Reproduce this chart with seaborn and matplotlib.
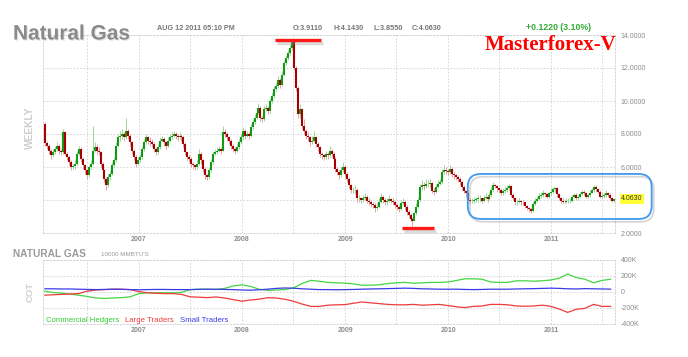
import numpy as np
import pandas as pd
import seaborn as sns
import matplotlib.pyplot as plt
import matplotlib.dates as mdates
import matplotlib.patheffects as pe
from matplotlib.patches import FancyBboxPatch
from matplotlib.transforms import IdentityTransform

# weekly natural gas prices (Feb 2006 - Aug 12 2011)
first_open = 8.6
last_open = 3.911
closes = [
    7.45, 7.3, 7.0, 6.7, 6.9, 7.1, 7.3, 7.0, 6.9, 8.1,
    6.8, 6.6, 6.3, 6.0, 6.05, 6.2, 6.8, 7.1, 6.5, 6.1,
    5.8, 5.5, 6.0, 6.2, 7.0, 7.2, 7.0, 6.9, 6.2, 5.8,
    5.3, 4.9, 5.4, 5.6, 6.1, 6.4, 7.3, 7.8, 7.9, 8.0,
    7.8, 8.2, 7.9, 7.5, 7.0, 6.6, 6.2, 6.4, 6.6, 7.1,
    7.5, 7.8, 7.6, 7.5, 7.4, 7.1, 6.9, 7.2, 7.6, 7.7,
    7.5, 7.3, 7.6, 7.8, 7.9, 8.0, 7.9, 7.8, 7.9, 7.8,
    7.4, 6.9, 6.6, 6.5, 6.2, 6.1, 6.0, 6.2, 6.8, 6.4,
    5.9, 5.5, 5.4, 5.8, 6.3, 6.8, 6.9, 7.0, 7.1, 7.0,
    8.1, 8.0, 7.8, 7.6, 7.3, 7.1, 7.0, 7.2, 7.5, 7.8,
    8.2, 7.9, 8.0, 7.9, 8.4, 8.7, 9.0, 9.3, 9.6, 9.0,
    8.9, 9.5, 9.6, 9.4, 10.0, 10.3, 10.7, 10.9, 11.3, 11.0,
    11.6, 12.3, 12.6, 12.9, 13.2, 13.6, 12.0, 10.8, 9.2, 9.5,
    8.5, 8.2, 7.9, 7.8, 7.5, 7.6, 7.8, 7.4, 7.2, 6.8,
    6.7, 6.6, 6.8, 6.7, 7.0, 6.8, 6.5, 5.9, 5.7, 5.5,
    5.8, 6.0, 5.6, 5.3, 4.9, 4.6, 4.6, 4.6, 4.1, 4.1,
    4.0, 4.1, 4.2, 3.95, 3.9, 3.75, 3.7, 3.5, 3.6, 3.9,
    4.2, 4.0, 3.85, 3.95, 4.05, 3.95, 3.9, 3.7, 3.6, 3.45,
    3.8, 3.9, 3.6, 3.3, 3.1, 2.85, 2.75, 3.2, 3.6, 4.0,
    4.8, 4.9, 4.85, 4.95, 5.0, 5.05, 4.55, 4.5, 4.8, 5.0,
    5.1, 5.7, 5.8, 5.75, 5.7, 5.9, 5.6, 5.5, 5.4, 5.3,
    5.1, 4.8, 4.55, 4.4, 4.0, 3.95, 3.95, 4.0, 4.05, 4.1,
    4.1, 3.95, 4.15, 4.2, 4.05, 4.3, 4.6, 4.9, 4.85, 4.7,
    4.6, 4.4, 4.55, 4.6, 4.75, 4.85, 4.3, 4.1, 3.85, 3.9,
    3.95, 3.9, 3.85, 3.65, 3.5, 3.45, 3.35, 3.75, 3.95, 4.05,
    4.25, 4.3, 4.4, 4.35, 4.2, 4.4, 4.5, 4.65, 4.7, 4.35,
    4.1, 3.95, 3.9, 3.9, 3.95, 3.95, 3.95, 4.2, 4.3, 4.15,
    4.2, 4.35, 4.5, 4.45, 4.2, 4.3, 4.45, 4.6, 4.8, 4.65,
    4.5, 4.2, 4.25, 4.3, 4.45, 4.3, 4.1, 3.91, 4.063,
]
highs = [
    8.7, 7.6, 7.4, 7.1, 7.1, 7.3, 7.5, 7.4, 7.1, 8.3,
    8.2, 6.9, 6.7, 6.4, 6.2, 6.4, 7.0, 7.3, 7.2, 6.6,
    6.2, 5.9, 6.1, 6.4, 8.5, 7.5, 7.4, 7.2, 7.0, 6.3,
    5.9, 5.4, 5.6, 5.8, 6.3, 6.6, 7.5, 8.0, 8.2, 8.3,
    8.1, 9.0, 8.3, 8.0, 7.6, 7.1, 6.7, 6.6, 6.8, 7.3,
    7.7, 8.0, 7.9, 7.8, 7.7, 7.5, 7.2, 7.4, 7.8, 7.9,
    7.8, 7.6, 7.8, 8.0, 8.1, 8.2, 8.1, 8.0, 8.1, 8.0,
    7.9, 7.5, 7.0, 6.7, 6.6, 6.3, 6.2, 6.4, 7.1, 6.9,
    6.5, 6.0, 5.6, 6.0, 6.5, 7.0, 7.1, 7.2, 7.3, 7.2,
    8.5, 8.3, 8.1, 7.9, 7.7, 7.4, 7.2, 7.4, 7.7, 8.0,
    8.4, 8.3, 8.2, 8.1, 8.6, 8.9, 9.2, 9.5, 9.9, 9.7,
    9.1, 9.7, 9.8, 9.7, 10.2, 10.5, 10.9, 11.1, 11.5, 11.4,
    11.8, 12.5, 12.8, 13.1, 13.4, 13.7, 13.7, 12.1, 10.9, 9.8,
    9.6, 8.9, 8.3, 8.1, 7.9, 7.9, 8.2, 7.9, 7.5, 7.3,
    6.9, 6.8, 7.0, 6.9, 7.3, 7.1, 6.9, 6.6, 6.0, 5.8,
    6.0, 6.3, 6.1, 5.7, 5.4, 5.0, 4.8, 4.9, 4.7, 4.3,
    4.2, 4.3, 4.4, 4.3, 4.1, 4.0, 3.9, 3.8, 3.8, 4.1,
    4.4, 4.3, 4.1, 4.1, 4.3, 4.1, 4.1, 4.0, 3.8, 3.7,
    4.0, 4.1, 4.0, 3.7, 3.4, 3.2, 3.0, 3.3, 3.8, 4.2,
    5.0, 5.2, 5.1, 5.3, 5.2, 5.3, 5.1, 4.7, 5.0, 5.2,
    5.3, 5.9, 6.1, 6.0, 5.9, 6.1, 6.0, 5.7, 5.6, 5.5,
    5.4, 5.2, 4.9, 4.6, 4.5, 4.1, 4.1, 4.2, 4.2, 4.3,
    4.3, 4.2, 4.3, 4.4, 4.3, 4.5, 4.8, 5.1, 5.0, 4.9,
    4.8, 4.7, 4.7, 4.8, 4.9, 5.0, 4.9, 4.4, 4.2, 4.0,
    4.1, 4.0, 4.0, 3.9, 3.7, 3.6, 3.5, 3.9, 4.1, 4.2,
    4.4, 4.5, 4.6, 4.5, 4.4, 4.5, 4.7, 4.8, 4.8, 4.8,
    4.4, 4.2, 4.1, 4.0, 4.1, 4.1, 4.1, 4.3, 4.4, 4.4,
    4.3, 4.5, 4.6, 4.6, 4.5, 4.4, 4.6, 4.7, 4.9, 4.9,
    4.7, 4.6, 4.4, 4.4, 4.6, 4.5, 4.4, 4.2, 4.143,
]
lows = [
    7.3, 7.1, 6.8, 6.5, 6.6, 6.8, 7.0, 6.8, 6.7, 6.8,
    6.7, 6.4, 6.1, 5.8, 5.9, 5.9, 6.1, 6.7, 6.3, 5.9,
    5.6, 5.3, 5.4, 5.9, 6.1, 6.9, 6.8, 6.7, 6.0, 5.6,
    5.1, 4.6, 4.8, 5.2, 5.5, 6.0, 6.3, 7.2, 7.6, 7.7,
    7.6, 7.7, 7.7, 7.3, 6.8, 6.4, 6.0, 6.1, 6.3, 6.5,
    7.0, 7.4, 7.4, 7.3, 7.2, 6.9, 6.7, 6.8, 7.1, 7.5,
    7.3, 7.1, 7.2, 7.5, 7.7, 7.8, 7.7, 7.6, 7.7, 7.6,
    7.2, 6.7, 6.4, 6.3, 6.0, 5.9, 5.8, 5.9, 6.1, 6.2,
    5.7, 5.3, 5.2, 5.3, 5.7, 6.2, 6.7, 6.8, 6.9, 6.8,
    7.0, 7.8, 7.6, 7.4, 7.1, 6.9, 6.8, 6.9, 7.1, 7.4,
    7.7, 7.7, 7.8, 7.7, 7.8, 8.3, 8.6, 8.9, 9.2, 8.8,
    8.7, 8.8, 9.4, 9.2, 9.3, 9.9, 10.2, 10.6, 10.8, 10.8,
    10.9, 11.5, 12.2, 12.5, 12.8, 13.1, 11.9, 10.6, 9.0, 9.0,
    8.3, 8.0, 7.7, 7.6, 7.3, 7.4, 7.5, 7.2, 7.0, 6.6,
    6.5, 6.4, 6.5, 6.5, 6.6, 6.6, 6.3, 5.7, 5.5, 5.3,
    5.4, 5.7, 5.4, 5.1, 4.7, 4.4, 4.4, 4.4, 3.9, 3.9,
    3.8, 3.9, 4.0, 3.8, 3.7, 3.6, 3.5, 3.3, 3.4, 3.5,
    3.8, 3.8, 3.7, 3.7, 3.9, 3.8, 3.7, 3.5, 3.4, 3.3,
    3.4, 3.7, 3.4, 3.1, 2.9, 2.7, 2.45, 2.7, 3.1, 3.5,
    3.9, 4.6, 4.6, 4.7, 4.8, 4.8, 4.4, 4.3, 4.4, 4.7,
    4.9, 5.0, 5.6, 5.6, 5.5, 5.6, 5.4, 5.3, 5.2, 5.1,
    4.9, 4.6, 4.4, 4.2, 3.8, 3.8, 3.8, 3.8, 3.9, 3.9,
    3.9, 3.8, 3.9, 4.0, 3.9, 4.0, 4.2, 4.5, 4.7, 4.5,
    4.4, 4.3, 4.3, 4.4, 4.5, 4.6, 4.2, 4.0, 3.7, 3.7,
    3.8, 3.7, 3.7, 3.5, 3.4, 3.3, 3.2, 3.3, 3.7, 3.9,
    4.0, 4.1, 4.2, 4.2, 4.1, 4.1, 4.3, 4.4, 4.5, 4.2,
    4.0, 3.8, 3.8, 3.8, 3.8, 3.8, 3.8, 3.9, 4.1, 4.0,
    4.0, 4.1, 4.3, 4.3, 4.1, 4.1, 4.2, 4.4, 4.5, 4.5,
    4.4, 4.1, 4.1, 4.1, 4.2, 4.2, 4.0, 3.85, 3.855,
]

# COT net positions (thousands of contracts), monthly readings Feb 2006 - Aug 2011
commercial = [
    10, -5, -15, -25, -40, -55, -75, -80, -75, -70, -60,
    -20, -10, -10, -10, -10, -5, 30, 35, 35, 30, 45, 75,
    90, 70, 35, 20, 25, 30, 50, 105, 145, 135, 120, 115,
    110, 100, 85, 85, 90, 105, 115, 120, 110, 115, 120, 120,
    125, 145, 165, 165, 160, 125, 120, 120, 140, 140, 135, 140,
    150, 175, 225, 180, 160, 115, 145, 160,
]
large = [
    -40, -35, -30, -25, -20, 10, 25, 30, 35, 35, 30,
    5, -10, -15, -20, -20, -30, -60, -65, -70, -62, -75, -95,
    -115, -100, -90, -72, -75, -90, -115, -150, -180, -180, -165, -160,
    -158, -140, -125, -135, -145, -155, -160, -160, -155, -165, -160, -155,
    -170, -185, -195, -180, -175, -155, -155, -160, -175, -178, -175, -165,
    -180, -215, -255, -215, -205, -155, -180, -180,
]
small = [
    40, 40, 38, 38, 35, 32, 30, 32, 35, 33, 30,
    28, 30, 32, 32, 30, 30, 30, 33, 35, 35, 32, 30,
    25, 22, 28, 35, 45, 50, 48, 40, 35, 30, 30, 28,
    30, 32, 35, 38, 40, 42, 45, 48, 45, 40, 38, 35,
    35, 35, 32, 30, 32, 35, 35, 35, 38, 40, 42, 45,
    48, 45, 40, 38, 42, 40, 38, 36,
]
years = ['2007', '2008', '2009', '2010', '2011']
price_ticks = [2, 4, 6, 8, 10, 12, 14]
cot_ticks = [-400, -200, 0, 200, 400]

weeks = pd.date_range('2006-02-03', periods=len(closes), freq='7D')
opens = [first_open] + closes[:-1]
opens[-1] = last_open
df = pd.DataFrame({'week': weeks, 'open': opens, 'high': highs, 'low': lows, 'close': closes})

cot_months = pd.date_range('2006-02-01', periods=len(commercial), freq='MS')
cot = pd.DataFrame({'month': cot_months, 'Commercial Hedgers': commercial,
                    'Large Traders': large, 'Small Traders': small})
cot = cot.melt(id_vars='month', var_name='group', value_name='net')

sns.set_theme(style='white')
plt.rcParams['font.family'] = ['Liberation Sans', 'DejaVu Sans']

W, H = 688, 357
fig = plt.figure(figsize=(W / 100, H / 100), dpi=100)
ax = fig.add_axes([43 / W, 1 - 233 / H, 572 / W, 198 / H])
ax2 = fig.add_axes([43 / W, 1 - 324 / H, 572 / W, 64 / H])

# candles
up = df['close'] >= df['open']
for mask, wick_col, body_col in [(up, '#9ad89a', '#139a13'), (~up, '#e0a4a4', '#a80000')]:
    d = df[mask]
    ax.vlines(d['week'], d['low'], d['high'], color=wick_col, lw=0.7)
    ax.vlines(d['week'], d['open'], d['close'], color=body_col, lw=1.5)

# COT lines
sns.lineplot(data=cot, x='month', y='net', hue='group', ax=ax2, legend=False, lw=0.9,
             palette={'Commercial Hedgers': '#44d444', 'Large Traders': '#ee3b3b',
                      'Small Traders': '#3a3ae8'})

xmin, xmax = pd.Timestamp('2006-01-26'), pd.Timestamp('2011-08-16')
grid_kw = dict(color='#d0d0d0', ls=(0, (2, 2)), lw=0.6)
# the 4.0000 label sits under the last-price tag, so it is left blank
price_labels = ['' if v == 4 else f'{v:.4f}' for v in price_ticks]
cot_labels = ['0' if v == 0 else f'{v}K' for v in cot_ticks]
for a, ticks, labels, lim in [(ax, price_ticks, price_labels, (2, 14)),
                              (ax2, cot_ticks, cot_labels, (-400, 400))]:
    a.set_xlim(xmin, xmax)
    a.set_ylim(*lim)
    a.set_xticks(pd.to_datetime([f'{y}-01-01' for y in years]), labels=years,
                 fontweight='bold')
    a.set_xticks(pd.to_datetime([f'{y}-07-01' for y in range(2006, 2012)]), minor=True)
    a.set_yticks(ticks, labels=labels)
    a.yaxis.tick_right()
    a.tick_params(which='both', length=0, labelsize=5, labelcolor='#8c8c8c')
    a.tick_params(axis='y', pad=4)
    a.tick_params(axis='x', pad=2.5)
    a.grid(True, which='both', axis='x', **grid_kw)
    a.grid(True, which='major', axis='y', **grid_kw)
    a.set_xlabel('')
    a.set_ylabel('')
    for s in a.spines.values():
        s.set_color('#d0d0d0')
        s.set_linestyle((0, (2, 2)))
        s.set_linewidth(0.6)

# red marker lines at the top and the bottom
shadow = [pe.SimpleLineShadow(offset=(1.5, -2), shadow_color='#888888', alpha=0.3), pe.Normal()]
ax.plot(pd.to_datetime(['2008-04-27', '2008-10-07']), [13.7, 13.7], color='#ff1a1a', lw=2.4,
        solid_capstyle='butt', clip_on=False, path_effects=shadow)
ax.plot(pd.to_datetime(['2009-07-21', '2009-11-11']), [2.3, 2.3], color='#ff1a1a', lw=2.4,
        solid_capstyle='butt', clip_on=False, path_effects=shadow)

# blue rounded range box
fig.canvas.draw()
x0, y0 = ax.transData.transform((mdates.date2num(pd.Timestamp('2010-03-12')), 2.85))
x1, y1 = ax.transData.transform((mdates.date2num(pd.Timestamp('2011-12-24')), 5.58))
box = FancyBboxPatch((x0, y0), x1 - x0, y1 - y0, boxstyle='round,pad=0,rounding_size=13',
                     transform=IdentityTransform(), fill=False, ec='#3d9af0', lw=1.3,
                     path_effects=[pe.SimpleLineShadow(offset=(1.5, -2), shadow_color='#777777',
                                                       alpha=0.3), pe.Normal()])
fig.add_artist(box)

# last price tag
ax.text(1 + 6 / 572, closes[-1], f'{closes[-1]:.4f}', transform=ax.get_yaxis_transform(),
        fontsize=5, color='#333333', va='center', ha='left',
        bbox=dict(boxstyle='square,pad=0.15', fc='#ffff33', ec='none'))

# header texts
def fx(px):
    return px / W


def fy(py):
    return 1 - py / H


fig.text(fx(13), fy(34), 'Natural Gas', fontsize=15, fontweight='bold', color='#8a8a8a',
         va='center', ha='left',
         path_effects=[pe.SimplePatchShadow(offset=(0.8, -0.8), shadow_rgbFace='#cccccc',
                                            alpha=0.5), pe.Normal()])
head_kw = dict(fontsize=5.2, fontweight='bold', color='#777777', va='center', ha='left')
fig.text(fx(157), fy(28), 'AUG 12 2011 05:10 PM', **head_kw)
fig.text(fx(293), fy(28), 'O:3.9110', **head_kw)
fig.text(fx(333), fy(28), 'H:4.1430', **head_kw)
fig.text(fx(373), fy(28), 'L:3.8550', **head_kw)
fig.text(fx(412), fy(28), 'C:4.0630', **head_kw)
fig.text(fx(526), fy(28), '+0.1220 (3.10%)', fontsize=6.3, fontweight='bold', color='#33aa33',
         va='center', ha='left')
fig.text(fx(616), fy(45), 'Masterforex-V', fontsize=15, fontweight='bold', color='#ff0000',
         family='Liberation Serif', va='center', ha='right')
fig.text(fx(30), fy(128), 'WEEKLY', fontsize=7.4, fontweight='bold', color='#cfcfcf',
         rotation=90, va='center', ha='center')

# lower panel texts
fig.text(fx(13), fy(254), 'NATURAL GAS', fontsize=7.3, fontweight='bold', color='#9a9a9a',
         va='center', ha='left')
fig.text(fx(101), fy(254), "10000 MMBTU'S", fontsize=4.5, color='#9a9a9a', va='center', ha='left')
fig.text(fx(30), fy(292), 'COT', fontsize=6.8, fontweight='bold', color='#cfcfcf',
         rotation=90, va='center', ha='center')
fig.text(fx(46), fy(320), 'Commercial Hedgers', fontsize=5.6, color='#33cc33', va='center', ha='left')
fig.text(fx(125), fy(320), 'Large Traders', fontsize=5.6, color='#ee3b3b', va='center', ha='left')
fig.text(fx(180), fy(320), 'Small Traders', fontsize=5.6, color='#3a3ae8', va='center', ha='left')

fig.savefig('out.png', dpi=100)
